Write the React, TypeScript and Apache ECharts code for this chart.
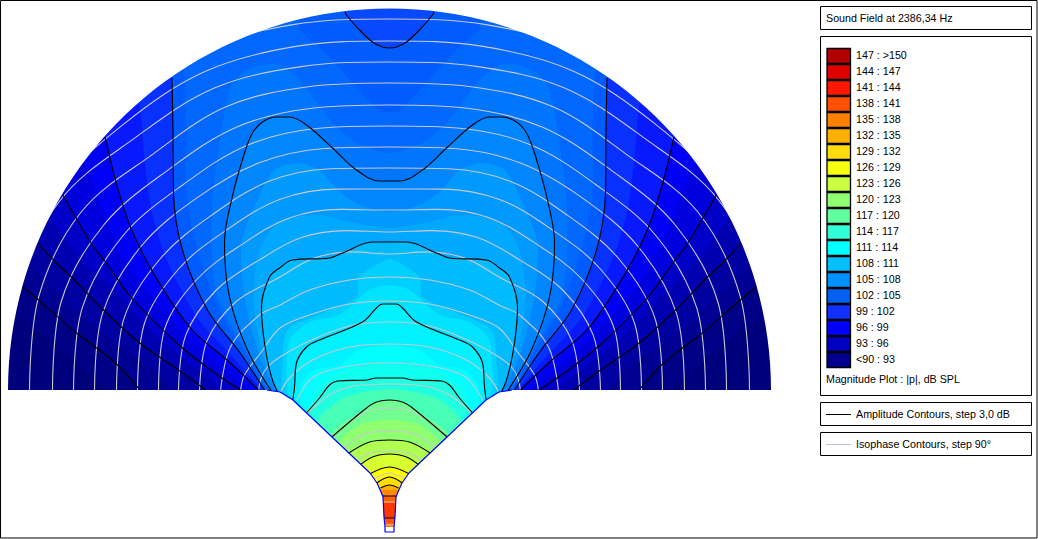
import React, { useEffect, useRef } from "react";
import * as echarts from "echarts";

type P = [number, number];

const titleText = "Sound Field at 2386,34 Hz";
const magnitudeText = "Magnitude Plot : |p|, dB SPL";
const amplitudeText = "Amplitude Contours, step 3,0 dB";
const isophaseText = "Isophase Contours, step 90°";
const legendLabels = [
  "147 : >150", "144 : 147", "141 : 144", "138 : 141", "135 : 138", "132 : 135", "129 : 132",
  "126 : 129", "123 : 126", "120 : 123", "117 : 120", "114 : 117", "111 : 114", "108 : 111",
  "105 : 108", "102 : 105", "99 : 102", "96 : 99", "93 : 96", "<90 : 93",
];
const legendColors = [
  "#B00000", "#E00000", "#FF1800", "#FF5000", "#FF8000", "#FFB000", "#FFDC10",
  "#F8FF10", "#C8FF40", "#90FF70", "#60FFA0", "#30FFD8", "#00FFFF", "#00C0FF",
  "#0090FF", "#0060F0", "#1030FF", "#0000FF", "#0000C0", "#000090",
];

const axisX = 389.5;
const axisY = 390;
const domainRadius = 381.5;
const baseColor = "#00007C";

// half-curves: [distance from the horn axis, y]
const top: P[] = [[0, -5], [430, -5]];
const contourA: P[] = [[366.5, 287], [351, 300], [314, 332], [274, 363], [249.5, 390]];
const contourB: P[] = [[351.5, 243], [334, 262], [317, 278], [286, 310], [251, 342], [211, 370], [184, 390]];
const contourC: P[] = [[326.5, 195], [299, 242], [284, 262], [256, 300], [207, 348], [169, 377], [149, 390]];
const contourD: P[] = [[284.5, 137], [274, 180], [259, 227], [236, 273], [199, 328], [159, 363], [131, 390]];
const contourE: P[] = [[217.5, 78], [216.5, 130], [216, 193], [207, 250], [182, 310], [150, 352], [125, 390]];
const contourHole: P[] = [[0, 48], [7, 47], [17, 42], [30, 30], [43, 15], [44.5, 12]];
const contourF: P[] = [[0, 181], [10, 181], [33, 170], [57, 148], [83, 125], [100, 117], [113, 117], [127, 122], [137, 133], [145, 153], [158, 200], [165, 243], [160, 297], [142, 350], [118, 391]];
const contourG: P[] = [[0, 242], [17, 242], [47, 253], [60, 258], [97, 260], [110, 268], [120, 277], [128, 307], [125, 343], [118, 377], [110, 396]];
const contourI: P[] = [[0, 304], [7, 304], [13, 308], [27, 322], [70, 340], [83, 347], [93, 363], [95, 387], [97, 402]];
const contourJ: P[] = [[0, 378], [13, 378], [23, 380], [52, 381], [60, 385], [70, 398], [84, 414]];
const contourK: P[] = [[0, 400], [13, 402], [23, 408], [60, 439]];
const contourL: P[] = [[0, 440], [20, 442], [45, 456]];
const contourM: P[] = [[0, 454], [17, 457], [32, 467]];
const contourN: P[] = [[0, 467], [20, 474]];
const contourO: P[] = [[0, 477], [14, 484]];
const contourP: P[] = [[0, 485], [9, 488]];
const contourQ: P[] = [[0, 496], [8, 496]];
const contourR: P[] = [[0, 518], [6, 518]];

const subA0: P[] = [[378, 310], [340, 340], [300, 375], [275, 392]];
const subA1: P[] = [[360, 265], [325, 300], [285, 335], [245, 362], [217, 390]];
const subB1: P[] = [[340, 218], [310, 258], [272, 295], [230, 340], [190, 372], [167, 390]];
const subC1: P[] = [[305, 165], [287, 210], [270, 250], [245, 288], [205, 335], [165, 370], [140, 390]];
const subD1: P[] = [[250, 105], [245, 160], [237, 215], [222, 262], [192, 318], [156, 358], [128, 390]];
const subE1: P[] = [[0, 112], [10, 111], [42, 77], [70, 47], [89.5, 30], [96, 0], [190, 0], [205, 60], [203, 130], [203, 193], [192, 250], [170, 310], [146, 350], [122, 391]];
const subE2: P[] = [[0, 153], [33, 143], [57, 123], [77, 97], [93, 77], [110, 65], [130, 65], [147, 73], [160, 90], [172, 157], [177, 200], [178, 243], [172, 297], [144, 350], [120, 391]];
const subF1: P[] = [[0, 212], [30, 205], [52, 190], [70, 170], [92, 163], [115, 170], [132, 200], [148, 243], [145, 297], [132, 350], [112, 392]];
const subF2: P[] = [[0, 228], [40, 222], [70, 215], [110, 222], [130, 250], [136, 300], [128, 350], [110, 392]];
const subH: P[] = [[0, 259], [10, 263], [30, 277], [33, 297], [67, 313], [102, 330], [107, 363], [106, 394]];
const subH1: P[] = [[0, 285], [20, 290], [50, 315], [80, 322], [100, 340], [103, 380], [100, 398]];
const subI1: P[] = [[0, 345], [30, 350], [50, 365], [75, 370], [88, 385], [88, 408]];
const subI2: P[] = [[0, 365], [40, 368], [70, 385], [78, 410]];
const subJ1: P[] = [[0, 389], [25, 392], [50, 400], [72, 424]];
const subK1: P[] = [[0, 420], [30, 425], [52, 447]];
const subP1: P[] = [[0, 490], [10, 491]];
const subQ1: P[] = [[0, 503], [8, 503]];
const subR1: P[] = [[0, 523], [6, 523]];

const fillLevelsOuter: { color: string; curve: P[] }[] = [
  { color: "#000086", curve: [...top, [430, 250], ...subA0] },
  { color: "#000092", curve: [...top, [430, 240], ...contourA] },
  { color: "#0000A0", curve: [...top, [430, 200], ...subA1] },
  { color: "#0000B0", curve: [...top, [430, 180], ...contourB] },
  { color: "#0000C6", curve: [...top, [430, 120], ...subB1] },
  { color: "#0000DE", curve: [...top, [420, 60], ...contourC] },
  { color: "#0000F6", curve: [...top, [400, 40], ...subC1] },
  { color: "#0818FF", curve: [...top, [330, 60], ...contourD] },
  { color: "#0830FF", curve: [...top, [270, 40], ...subD1] },
  { color: "#005CFF", curve: [[0, -5], [220, -5], ...contourE] },
];
const holeColor = "#0848FF";
const fillLevelsInner: { color: string; curve: P[] }[] = [
  { color: "#0068FF", curve: subE1 },
  { color: "#0076FF", curve: subE2 },
  { color: "#0086FF", curve: contourF },
  { color: "#009AFF", curve: subF1 },
  { color: "#00A8FF", curve: subF2 },
  { color: "#00BCFF", curve: contourG },
  { color: "#00D0FF", curve: subH },
  { color: "#00E4FF", curve: subH1 },
  { color: "#00F2FF", curve: contourI },
  { color: "#00FFFF", curve: subI1 },
  { color: "#10FFEF", curve: subI2 },
  { color: "#20FFE0", curve: contourJ },
  { color: "#48FFB8", curve: subJ1 },
  { color: "#70FF90", curve: contourK },
  { color: "#90FF70", curve: subK1 },
  { color: "#B0FF50", curve: contourL },
  { color: "#D8FF30", curve: contourM },
  { color: "#FFFF00", curve: contourN },
  { color: "#FFE000", curve: contourO },
  { color: "#FFB000", curve: contourP },
  { color: "#FF8800", curve: subP1 },
  { color: "#FF6000", curve: contourQ },
  { color: "#FF3800", curve: subQ1 },
  { color: "#FF5000", curve: contourR },
  { color: "#FF7000", curve: subR1 },
];

const isoAngles = [0, 15, 30, 45, 60, 75, 90];
const isoRadii = [
  [425, 423, 413, 398, 390, 378, 371],
  [403, 401, 391, 376, 368, 356, 349],
  [392, 386, 380, 358, 349, 335, 328],
  [360, 363, 356, 334, 327, 314, 307],
  [337, 340, 330, 312, 304, 292, 285],
  [316, 318, 308, 291, 283, 271, 264],
  [295, 297, 287, 272, 262, 250, 243],
  [273, 275, 264, 249, 241, 229, 222],
  [252, 254, 243, 228, 220, 208, 201],
  [231, 233, 222, 207, 199, 187, 180],
  [211, 211, 200, 184, 176, 165, 158],
  [190, 189, 177, 158, 152, 143, 136],
];
const isoInner: P[][] = [
  [[0, 277], [40, 280], [80, 290], [109.5, 305], [130, 315], [159, 347], [169, 391]],
  [[0, 301], [40, 304], [80, 315], [109.5, 328], [128, 352], [145, 375], [149, 391]],
  [[0, 322], [40, 326], [78, 340], [109.5, 357], [122, 367], [128, 377], [131, 391]],
  [[0, 344], [40, 347], [77, 360], [100, 378], [109.5, 393]],
  [[0, 363], [40, 366], [76, 377], [93, 400]],
  [[0, 384], [35, 386], [60, 395], [84, 415]],
  [[0, 408], [28, 414], [57, 437]],
  [[0, 431], [25, 434], [48, 450]],
  [[0, 451], [20, 453], [36, 464]],
  [[0, 473], [10, 476], [18, 480]],
  [[0, 502], [7, 502]],
  [[0, 525], [5, 525]],
];

const hornEdge: P[] = [[122.5, 390], [116.5, 391], [109.5, 392], [96.5, 400], [57.5, 437], [19.5, 473], [12.5, 483], [8.5, 492], [6.5, 497], [5.5, 517], [4.5, 527]];
const throatBox: P[] = [[4.5, 527], [4.5, 532], [0, 532]];

const toPlain = ([dx, y]: P): P => [axisX - dx, y];
const toMirror = ([dx, y]: P): P => [axisX + dx, y];

function mirrored(curve: P[]): P[] {
  const left = curve.map(toPlain).reverse();
  const right = curve.filter((p) => p[0] !== 0).map(toMirror);
  return [...left, ...right];
}
function closedField(curve: P[]): P[] {
  const c = curve.map(toPlain);
  const r = curve.filter((p) => p[0] !== 0).map(toMirror);
  return [...c, [axisX, 545], ...r.reverse()];
}
function closedHole(curve: P[]): P[] {
  const last = curve[curve.length - 1][0];
  return [...mirrored(curve), [axisX + last, -5], [axisX - last, -5]];
}
function polar(radii: number[]): P[] {
  const left = radii.map((r, i): P => {
    const a = (isoAngles[i] * Math.PI) / 180;
    return [axisX - r * Math.cos(a), axisY - r * Math.sin(a)];
  });
  const right = radii.slice(0, -1).reverse().map((r, i): P => {
    const a = (isoAngles[radii.length - 2 - i] * Math.PI) / 180;
    return [axisX + r * Math.cos(a), axisY - r * Math.sin(a)];
  });
  return [...left, ...right];
}

function maskUpper(): P[] {
  const pts: P[] = [[0, axisY], [axisX - domainRadius, axisY]];
  for (let d = 180; d >= 0; d -= 2) {
    const a = (d * Math.PI) / 180;
    pts.push([axisX + domainRadius * Math.cos(a), axisY - domainRadius * Math.sin(a)]);
  }
  pts.push([1038, axisY], [1038, -10], [0, -10]);
  return pts;
}
function maskLower(): P[] {
  const pts: P[] = [[-5, axisY - 0.5], [axisX - domainRadius, axisY]];
  hornEdge.forEach((p) => pts.push(toPlain(p)));
  hornEdge.slice().reverse().forEach((p) => pts.push(toMirror(p)));
  pts.push([axisX + domainRadius, axisY], [1043, axisY - 0.5], [1043, 545], [-5, 545]);
  return pts;
}
function maskBase(): P[] {
  return [[0, 0], [1038, 0], [1038, 539], [0, 539]];
}

const lineSeries = (data: P[], color: string, z: number) => ({
  type: "line" as const,
  data,
  z,
  smooth: 0.35,
  showSymbol: false,
  silent: true,
  clip: false,
  animation: false,
  lineStyle: { color, width: 1.1 },
});

export default function App() {
  const ref = useRef<HTMLDivElement>(null);
  useEffect(() => {
    document.body.style.margin = "0";
    document.body.style.background = "#fff";
    const chart = echarts.init(ref.current!, undefined, { renderer: "svg" });
    const font = "Liberation Sans";
    const isoColor = "#C8C8D0";
    const textStyle = (text: string, x: number, y: number) => ({
      type: "text" as const,
      x,
      y,
      z: 50,
      silent: true,
      style: { text, fill: "#000", font: `10.7px "${font}"`, textVerticalAlign: "middle" },
    });
    const box = (x: number, y: number, width: number, height: number) => ({
      type: "rect" as const,
      silent: true,
      z: 40,
      shape: { x, y, width, height },
      style: { fill: "#fff", stroke: "#000", lineWidth: 1 },
    });
    const seg = (x1: number, y1: number, x2: number, y2: number, stroke: string) => ({
      type: "line" as const,
      silent: true,
      z: 50,
      shape: { x1, y1, x2, y2 },
      style: { stroke, lineWidth: 1 },
    });

    const polyItem = (points: P[], fill: string, smooth: number) => (_p: any, api: any) => ({
      type: "polygon",
      shape: { points: points.map((p) => api.coord(p)), smooth },
      style: { fill, stroke: "none" },
    });

    const custom = (renderItem: any, z: number) => ({
      type: "custom" as const,
      coordinateSystem: "cartesian2d",
      data: [[0, 0]],
      z,
      clip: false,
      silent: true,
      animation: false,
      renderItem,
    });

    const outlineLeft = [...hornEdge, ...throatBox];
    const outline: P[] = [...outlineLeft.map(toPlain), ...outlineLeft.slice(0, -1).reverse().map(toMirror)];

    const contourPairs = [contourA, contourB, contourC, contourD, contourE];
    const contourWhole = [contourHole, contourF, contourG, contourI, contourJ, contourK, contourL, contourM, contourN, contourO, contourP, contourQ, contourR];

    const option: any = {
      animation: false,
      grid: { left: 0, right: 0, top: 0, bottom: 0, containLabel: false },
      xAxis: { type: "value", min: 0, max: 1038, show: false },
      yAxis: { type: "value", min: 0, max: 539, inverse: true, show: false },
      tooltip: { show: false },
      series: [
        custom(polyItem(maskBase(), baseColor, 0), 1),
        ...fillLevelsOuter.map((lvl) => custom(polyItem(closedField(lvl.curve), lvl.color, 0.25), 1)),
        custom(polyItem(closedHole(contourHole), holeColor, 0.25), 1),
        ...fillLevelsInner.map((lvl) => custom(polyItem(closedField(lvl.curve), lvl.color, 0.25), 1)),
        ...isoRadii.map((r) => lineSeries(polar(r), isoColor, 2)),
        ...isoInner.map((c) => lineSeries(mirrored(c), isoColor, 2)),
        ...contourPairs.flatMap((c) => [lineSeries(c.map(toPlain), "#000", 3), lineSeries(c.map(toMirror), "#000", 3)]),
        ...contourWhole.map((c) => lineSeries(mirrored(c), "#000", 3)),
        custom(polyItem(maskUpper(), "#fff", 0), 4),
        custom(polyItem(maskLower(), "#fff", 0), 4),
        {
          type: "line",
          data: outline,
          z: 5,
          showSymbol: false,
          silent: true,
          clip: false,
          animation: false,
          lineStyle: { color: "#0000FF", width: 1.2 },
        },
      ],
      graphic: {
        elements: [
          { type: "rect", silent: true, z: 40, shape: { x: 0.5, y: 0.5, width: 1036.5, height: 537.5 }, style: { fill: "none", stroke: "#000", lineWidth: 1 } },
          box(820.5, 6.5, 211, 23),
          textStyle(titleText, 826, 18),
          box(820.5, 36.5, 211, 359),
          ...legendColors.map((c, i) => ({
            type: "rect",
            silent: true,
            z: 50,
            shape: { x: 827, y: 48.5 + i * 16, width: 23.5, height: 15 },
            style: { fill: c, stroke: "#000", lineWidth: 1.3 },
          })),
          ...legendLabels.map((t, i) => textStyle(t, 856, 54.5 + i * 16)),
          textStyle(magnitudeText, 826, 378.5),
          box(820.5, 402.5, 211, 23),
          seg(826, 414.5, 851, 414.5, "#000"),
          textStyle(amplitudeText, 856, 414),
          box(820.5, 432.5, 211, 23),
          seg(826, 444.5, 851, 444.5, "#C0C0D0"),
          textStyle(isophaseText, 856, 444),
        ],
      },
    };
    chart.setOption(option);
    return () => chart.dispose();
  }, []);
  return <div ref={ref} style={{ width: 1038, height: 539 }} />;
}
